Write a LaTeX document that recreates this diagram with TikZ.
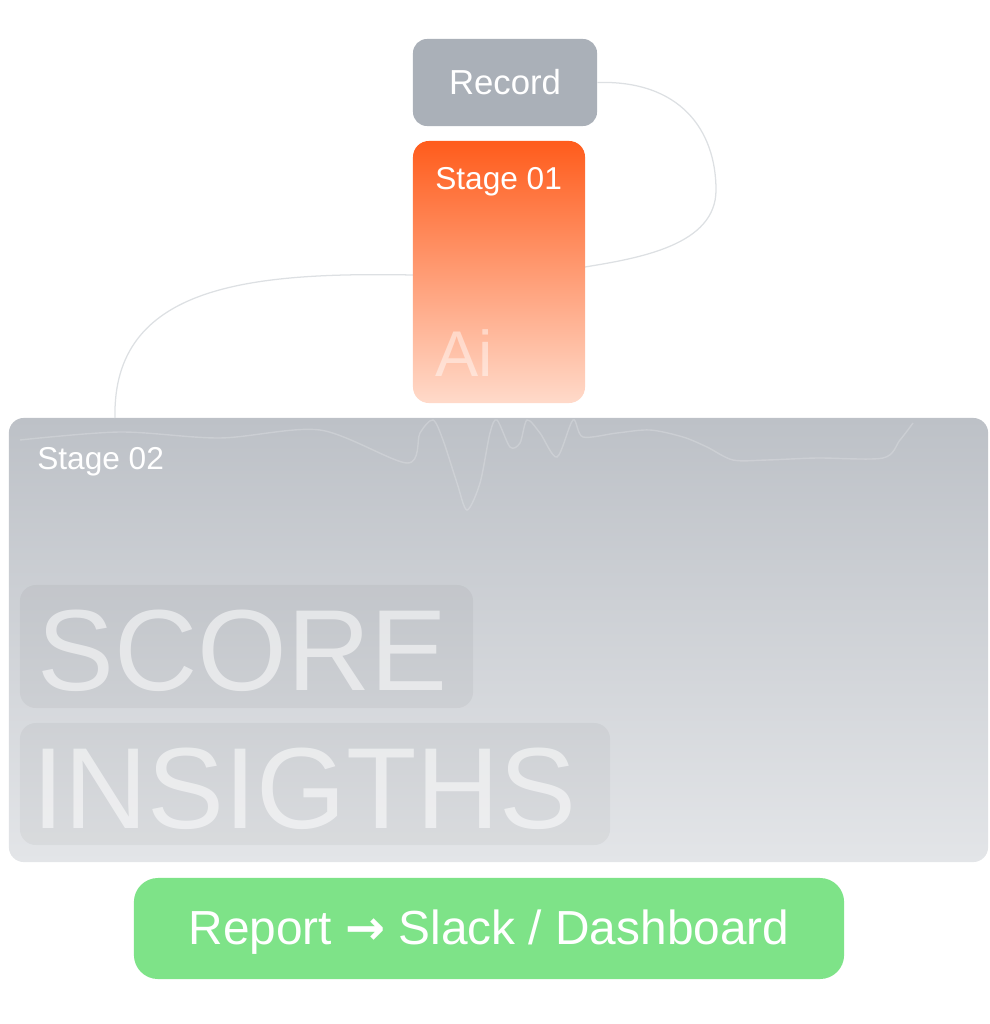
\documentclass[tikz,border=0pt]{standalone}
\usepackage{fontspec}
\setmainfont{Liberation Sans}
\newfontfamily\arrowfont{DejaVu Sans}
\tikzset{>=stealth}
\definecolor{recordgray}{HTML}{AAB0B8}
\definecolor{stagetop}{HTML}{FF5C1C}
\definecolor{stagebot}{HTML}{FFDACA}
\definecolor{paneltop}{HTML}{BDC1C7}
\definecolor{panelbot}{HTML}{E3E5E8}
\definecolor{wirecol}{HTML}{DDE0E3}
\definecolor{reportgreen}{HTML}{7EE388}
\tikzset{
  box/.style={inner sep=0pt, rounded corners=0.375cm},
  tagbox/.style={box, rounded corners=0.4cm, fill=black, fill opacity=0.04},
  lbl/.style={inner sep=0pt, text=white},
  big/.style={inner sep=0pt, text=white, text opacity=0.55, font=\fontsize{82}{82}\selectfont},
  wire/.style={draw=wirecol, line width=0.9pt},
  wave/.style={draw=white, draw opacity=0.2, line width=1pt},
}

\begin{document}
\begin{tikzpicture}[x=0.025cm,y=-0.025cm]
  \useasboundingbox (0,0) rectangle (989,1024);

  \node[box, top color=paneltop, bottom color=panelbot, minimum width=24.475cm, minimum height=11.1cm] (stagetwo) at (498.5,640) {};
  \node[box, rounded corners=0.35cm, fill=recordgray, minimum width=4.6cm, minimum height=2.175cm] (record) at (505,82.5) {};
  \node[lbl, font=\fontsize{24.7}{25}\selectfont] (recordtxt) at (505,82) {Record};

  \coordinate (wireend) at (115,418);
  \draw[wire] (record.east) .. controls (680,80) and (716,130) .. (716,190)
    .. controls (716,245) and (640,258) .. (585,267) -- (413,275)
    .. controls (250,272) and (112,285) .. (wireend);

  \node[box, rounded corners=0.4cm, top color=stagetop, bottom color=stagebot, minimum width=4.3cm, minimum height=6.55cm] (stageone) at (499,272) {};
  \node[lbl, anchor=base west, font=\fontsize{22.5}{23}\selectfont] (stageonetxt) at (435,190) {Stage 01};
  \node[lbl, anchor=base west, text opacity=0.45, font=\fontsize{46}{46}\selectfont] (ai) at (435,376) {Ai};

  \draw[wave] plot[smooth] coordinates {(20,440) (120,432) (220,438) (320,430) (407,463) (420,433) (433,420) (443,440) (457,483) (467,510) (480,483) (490,433) (497,420) (510,447) (520,443) (527,420) (540,433) (557,457) (573,420) (583,437) (617,433) (650,430) (683,437) (707,447) (733,460) (767,460) (817,458) (883,458) (900,440) (913,423)};
  \node[lbl, anchor=base west, font=\fontsize{22.5}{23}\selectfont] (stagetwotxt) at (37,469) {Stage 02};

  \node[tagbox, minimum width=11.325cm, minimum height=3.075cm] (scorebox) at (246.5,646.5) {};
  \node[big, anchor=base west] (score) at (37,690) {SCORE};
  \node[tagbox, minimum width=14.75cm, minimum height=3.05cm] (insightsbox) at (315,784) {};
  \node[big, anchor=base west] (insights) at (32,828) {INSIGTHS};

  \node[box, rounded corners=0.6cm, fill=reportgreen, minimum width=17.75cm, minimum height=2.525cm] (report) at (489,928.5) {};
  \node[lbl, font=\fontsize{34}{34}\selectfont] (reporttxt) at (489,932) {Report {\arrowfont\bfseries →} Slack / Dashboard};
\end{tikzpicture}
\end{document}
